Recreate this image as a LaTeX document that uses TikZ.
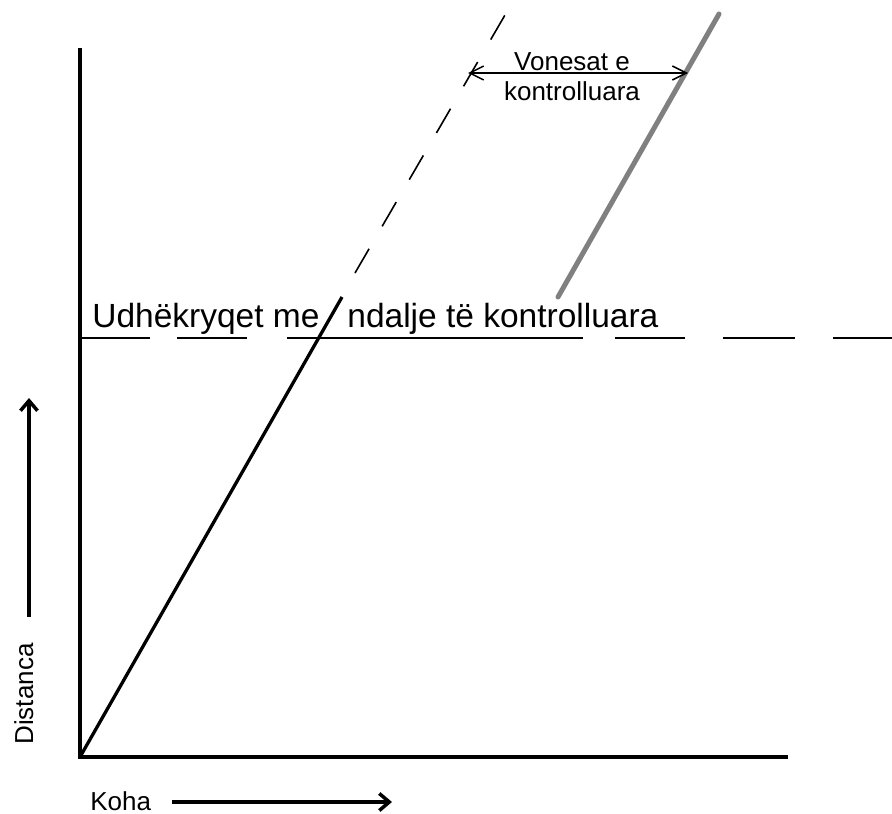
\documentclass[tikz,border=0pt]{standalone}
\usepackage{fontspec}
\setmainfont{Liberation Sans}
\usepackage{tikz}
\usetikzlibrary{arrows.meta,positioning}

\begin{document}
\begin{tikzpicture}[x=1pt, y=-1pt, thick]
        \tikzstyle{axis} = [draw, line width=4pt, line join=miter]
        \tikzstyle{bigtext} = [font=\fontsize{33.5}{40}\selectfont, inner sep=0pt]
        \tikzstyle{smalltext} = [font=\fontsize{26}{30}\selectfont, inner sep=0pt]
        \tikzstyle{bigarrow} = [draw, line width=3.5pt, -{Straight Barb[length=10pt,width=17pt]}]
        \tikzstyle{delay} = [draw, line width=1.5pt, {Straight Barb[length=14pt,width=14pt]}-{Straight Barb[length=14pt,width=14pt]}]

        \useasboundingbox (0,0) rectangle (892,814);

        \coordinate (origin) at (80,757);
        \coordinate (ytop) at (80,48);
        \coordinate (xend) at (788,757);
        \coordinate (cross) at (342,297);
        \coordinate (dashstart) at (355,273);
        \coordinate (dashend) at (505,15);
        \coordinate (graylow) at (558,297);
        \coordinate (grayhigh) at (719,14);
        \coordinate (stopleft) at (80,338);
        \coordinate (stopright) at (892,338);
        \coordinate (delayleft) at (468,73);
        \coordinate (delayright) at (688,73);
        \coordinate (kohastart) at (172,802);
        \coordinate (kohaend) at (392,802);
        \coordinate (diststart) at (29,617);
        \coordinate (distend) at (29,398);

        % axes
        \path [axis] (ytop) -- (origin) -- (xend);

        % vehicle paths
        \path [draw, line width=3.3pt] (origin) -- (cross);
        \path [draw, line width=1.6pt, dash pattern=on 28pt off 26pt] (dashstart) -- (dashend);
        \path [draw, line width=5pt, black!50, line cap=round] (graylow) -- (grayhigh);

        % intersection line
        \path [draw, line width=2pt, dash pattern=on 70pt off 27pt on 70pt off 40pt on 296pt off 32pt on 70pt off 38pt on 72pt off 38pt on 70pt] (stopleft) -- (stopright);

        \node [bigtext, anchor=base west] (udh) at (92,327) {Udhëkryqet me};
        \node [bigtext, anchor=base west] (ndalje) at (347,327) {ndalje të kontrolluara};

        % delay
        \path [delay] (delayleft) -- (delayright);
        \node [smalltext, anchor=base] (vonesat) at (572,70) {Vonesat e};
        \node [smalltext, anchor=base] (kontrolluara) at ([yshift=-30pt]vonesat.base) {kontrolluara};

        % axis labels
        \node [smalltext, anchor=base west] (koha) at (90,810) {Koha};
        \path [bigarrow] (kohastart) -- (kohaend);
        \node [smalltext, anchor=base west, rotate=90] (distanca) at (33,745) {Distanca};
        \path [bigarrow] (diststart) -- (distend);
\end{tikzpicture}
\end{document}
